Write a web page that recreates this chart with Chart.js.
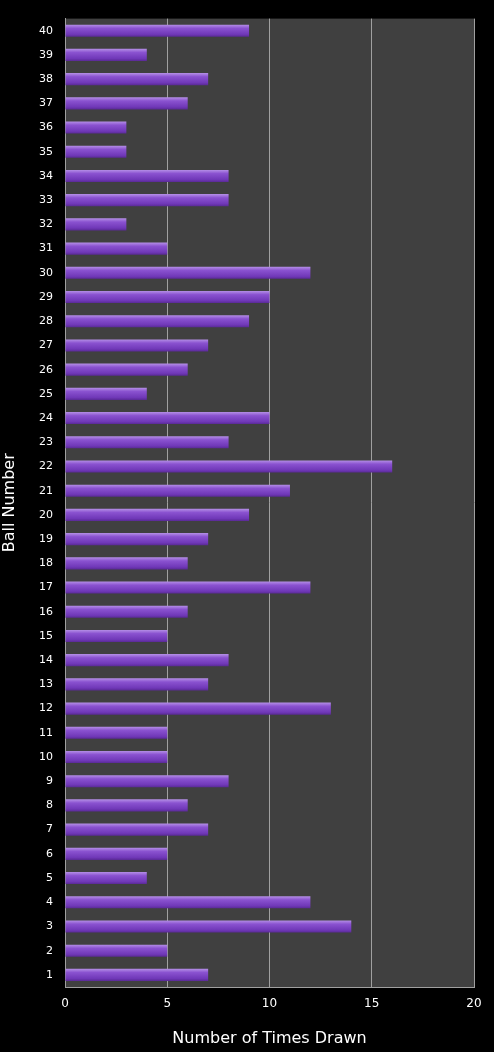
<!DOCTYPE html><html><head><style>html,body{margin:0;background:#000}#w{width:494px;height:1052px}</style>
<script src="https://cdn.jsdelivr.net/npm/chart.js@4"></script></head><body><div id="w"><canvas id="c"></canvas></div><script>
const balls=[40,39,38,37,36,35,34,33,32,31,30,29,28,27,26,25,24,23,22,21,20,19,18,17,16,15,14,13,12,11,10,9,8,7,6,5,4,3,2,1].map(String);
const timesDrawn=[9,4,7,6,3,3,8,8,3,5,12,10,9,7,6,4,10,8,16,11,9,7,6,12,6,5,8,7,13,5,5,8,6,7,5,4,12,14,5,7];
const xTicks=[0,5,10,15,20];
const bgPlugin={id:'bg',beforeDraw(c){const a=c.chartArea,x=c.ctx;x.save();x.fillStyle='#404040';x.fillRect(a.left,a.top,a.right-a.left,a.bottom-a.top);x.restore();}};
new Chart(document.getElementById('c'),{type:'bar',plugins:[bgPlugin],
data:{labels:balls,datasets:[{data:timesDrawn,
backgroundColor:(ctx)=>{const c=ctx.chart;const ys=c.scales&&c.scales.y;if(!ys)return '#7d46c2';const y=ys.getPixelForValue(ctx.dataIndex);if(!isFinite(y))return '#7d46c2';const h=12;const g=c.ctx.createLinearGradient(0,y-h/2,0,y+h/2);g.addColorStop(0,'#b48ee6');g.addColorStop(0.3,'#8a52d0');g.addColorStop(0.8,'#7038b8');g.addColorStop(1,'#5a2a96');return g;},
borderWidth:0,barPercentage:0.5,categoryPercentage:1}]},
options:{indexAxis:'y',responsive:true,maintainAspectRatio:false,animation:false,
layout:{padding:{top:15,right:20,left:0,bottom:0}},
plugins:{legend:{display:false},tooltip:{enabled:false}},
scales:{
x:{min:0,max:20,afterBuildTicks(s){s.ticks=xTicks.map(v=>({value:v}));},afterFit(s){s.height=65;},
grid:{color:'#a0a0a0',lineWidth:1,drawTicks:false},border:{color:'#a0a0a0'},
ticks:{color:'#fff',font:{family:'DejaVu Sans',size:12},padding:10},
title:{display:true,text:'Number of Times Drawn',color:'#fff',font:{family:'DejaVu Sans',size:16},padding:{top:6}}},
y:{afterFit(s){s.width=65;},grid:{display:false,drawTicks:false},border:{color:'#a0a0a0'},
ticks:{color:'#fff',font:{family:'DejaVu Sans',size:11},padding:12},
title:{display:true,text:'Ball Number',color:'#fff',font:{family:'DejaVu Sans',size:16},padding:0}}}}});
</script></body></html>
